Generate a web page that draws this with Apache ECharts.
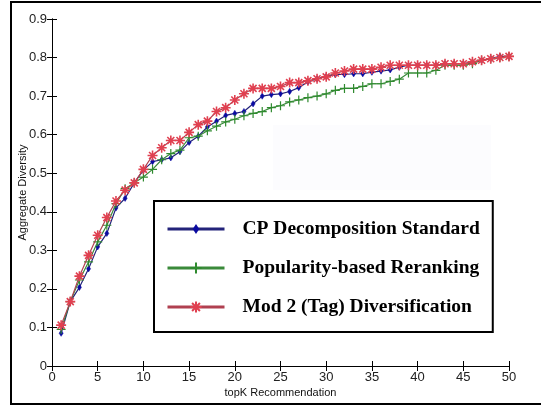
<!DOCTYPE html>
<html>
<head>
<meta charset="utf-8">
<script src="https://cdn.jsdelivr.net/npm/echarts@6/dist/echarts.min.js"></script>
<style>
html,body{margin:0;padding:0;background:#fff;}
#c{width:541px;height:409px;}
</style>
</head>
<body>
<div id="c"></div>
<script>
const topK = Array.from({length: 50}, (_, i) => i + 1);
const cpStandard = [0.085,0.167,0.204,0.252,0.309,0.344,0.41,0.435,0.475,0.508,0.53,0.535,0.54,0.556,0.58,0.596,0.62,0.635,0.65,0.655,0.66,0.68,0.70,0.704,0.706,0.712,0.722,0.737,0.745,0.751,0.756,0.756,0.758,0.758,0.762,0.765,0.768,0.775,0.78,0.78,0.78,0.78,0.784,0.784,0.784,0.788,0.793,0.797,0.803,0.803];
const popularity = [0.095,0.167,0.223,0.27,0.322,0.365,0.421,0.46,0.475,0.49,0.51,0.535,0.551,0.56,0.592,0.596,0.61,0.622,0.633,0.64,0.649,0.655,0.66,0.67,0.675,0.685,0.69,0.696,0.70,0.706,0.715,0.72,0.72,0.725,0.732,0.732,0.738,0.744,0.76,0.76,0.76,0.767,0.78,0.78,0.78,0.784,0.793,0.797,0.80,0.803];
const mod2Tag = [0.106,0.167,0.233,0.287,0.339,0.385,0.428,0.456,0.475,0.51,0.546,0.566,0.585,0.585,0.606,0.626,0.635,0.66,0.67,0.69,0.706,0.72,0.72,0.72,0.725,0.735,0.735,0.74,0.745,0.75,0.76,0.765,0.77,0.77,0.77,0.775,0.78,0.78,0.78,0.78,0.78,0.78,0.784,0.784,0.784,0.789,0.793,0.797,0.80,0.803];
const seriesNames = ['CP Decomposition Standard', 'Popularity-based Reranking', 'Mod 2 (Tag) Diversification'];
const xTicks = [0,5,10,15,20,25,30,35,40,45,50];
const yTicks = [0,0.1,0.2,0.3,0.4,0.5,0.6,0.7,0.8,0.9];

const pair = arr => arr.map((v, i) => [topK[i], v]);
const diamondPath = 'path://M-7,-7M7,7M0,-4L2.6,0L0,4L-2.6,0Z';
const plusPath = 'path://M0,-10L0,10M-10,0L10,0';
const starPath = 'path://M0,-10L0,10M-10,0L10,0M-7,-7L7,7M-7,7L7,-7';

const chart = echarts.init(document.getElementById('c'), null, {renderer: 'canvas'});
const axisFont = {fontFamily: 'Liberation Sans, Arial, sans-serif', fontSize: 13, color: '#222'};
chart.setOption({
  animation: false,
  backgroundColor: '#fff',
  grid: {left: 52, right: 32, top: 19, bottom: 43, containLabel: false},
  graphic: [
    {type: 'rect', z: -10, shape: {x: 273, y: 125, width: 218, height: 65}, style: {fill: '#fcfcfe'}, silent: true},
    {type: 'rect', z: 100, shape: {x: 11, y: 2, width: 545, height: 402}, style: {fill: 'none', stroke: '#000', lineWidth: 2}, silent: true}
  ],
  legend: {
    orient: 'vertical',
    left: 154, top: 201,
    data: seriesNames,
    backgroundColor: '#fff',
    borderColor: '#000',
    borderWidth: 2,
    padding: [18, 13, 15, 12],
    itemGap: 19,
    itemWidth: 57,
    itemHeight: 14,
    lineStyle: {width: 3},
    textStyle: {fontFamily: 'Liberation Serif, Times New Roman, serif', fontWeight: 'bold', fontSize: 19.5, color: '#000', padding: [0, 0, 0, 13]}
  },
  xAxis: [
    {type: 'value', min: 0, max: 50, interval: 5, position: 'bottom',
     name: 'topK Recommendation', nameLocation: 'middle', nameGap: 21, nameMoveOverlap: false,
     nameTextStyle: {fontFamily: 'Liberation Sans, Arial, sans-serif', fontSize: 11, color: '#111'},
     axisLine: {lineStyle: {color: '#000', width: 1}},
     axisTick: {inside: true, length: 5, lineStyle: {color: '#000'}},
     axisLabel: Object.assign({margin: 5, formatter: v => xTicks.includes(v) ? String(v) : ''}, axisFont),
     splitLine: {show: false}},
    {type: 'value', min: 0, max: 50, interval: 5, position: 'top',
     axisLine: {lineStyle: {color: '#000', width: 1}},
     axisTick: {inside: true, length: 5, lineStyle: {color: '#000'}},
     axisLabel: {show: false}, splitLine: {show: false}}
  ],
  yAxis: [
    {type: 'value', min: 0, max: 0.9, interval: 0.1, position: 'left',
     name: 'Aggregate Diversity', nameLocation: 'middle', nameGap: 24, nameMoveOverlap: false,
     nameTextStyle: {fontFamily: 'Liberation Sans, Arial, sans-serif', fontSize: 11, color: '#111'},
     axisLine: {lineStyle: {color: '#000', width: 1}},
     axisTick: {inside: true, length: 5, lineStyle: {color: '#000'}},
     axisLabel: Object.assign({margin: 5, formatter: v => { const t = yTicks.find(y => Math.abs(y - v) < 1e-9); return t === undefined ? '' : (t === 0 ? '0' : t.toFixed(1)); }}, axisFont),
     splitLine: {show: false}},
    {type: 'value', min: 0, max: 0.9, interval: 0.1, position: 'right',
     axisLine: {lineStyle: {color: '#000', width: 1}},
     axisTick: {inside: true, length: 5, lineStyle: {color: '#000'}},
     axisLabel: {show: false}, splitLine: {show: false}}
  ],
  series: [
    {name: seriesNames[0], type: 'line', data: pair(cpStandard), symbol: diamondPath, symbolSize: 11,
     lineStyle: {color: '#23237a', width: 1.2}, itemStyle: {color: '#0a0aa0', borderColor: '#0a0aa0', borderWidth: 0.5}, z: 2},
    {name: seriesNames[1], type: 'line', data: pair(popularity), symbol: plusPath, symbolSize: 9,
     lineStyle: {color: '#3a8a3a', width: 1.2}, itemStyle: {color: 'rgba(0,0,0,0)', borderColor: '#2e8a2e', borderWidth: 1.2}, z: 3},
    {name: seriesNames[2], type: 'line', data: pair(mod2Tag), symbol: starPath, symbolSize: 10,
     lineStyle: {color: '#b04050', width: 1.2}, itemStyle: {color: 'rgba(0,0,0,0)', borderColor: '#e04050', borderWidth: 1.6}, z: 4}
  ]
});
</script>
</body>
</html>
